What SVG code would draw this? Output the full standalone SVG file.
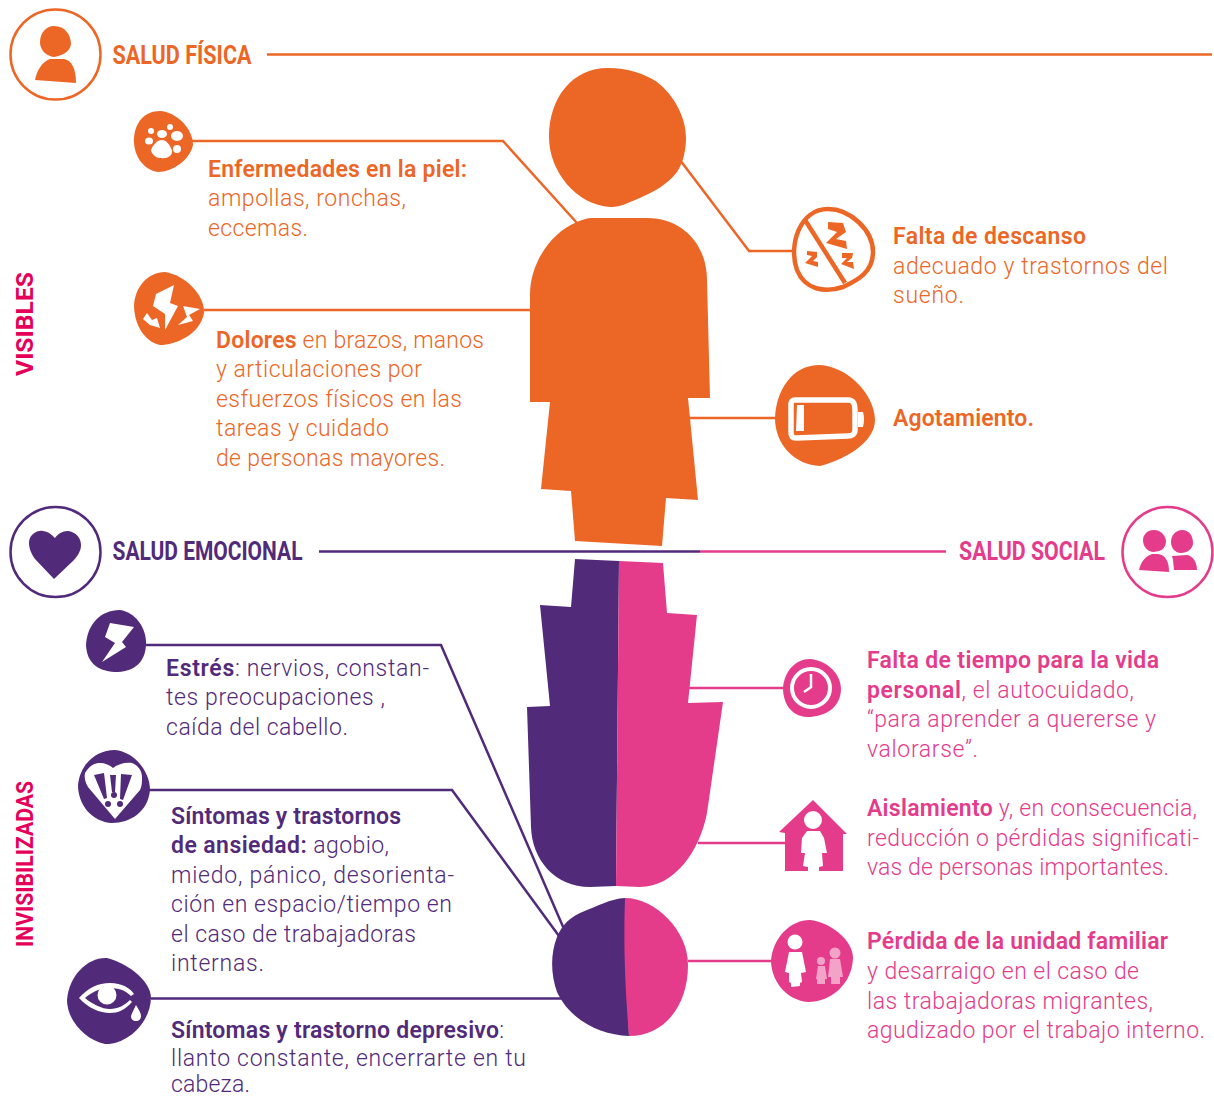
<svg xmlns="http://www.w3.org/2000/svg" width="1214" height="1098" viewBox="0 0 1214 1098">
<style>
text{font-family:"Roboto","Liberation Sans",sans-serif;font-size:23px;font-weight:300}
.b{font-weight:600}
.n{font-weight:300}
.h{font-weight:700;font-size:26px}
.o{fill:#ec6625}.p{fill:#522a7a}.k{fill:#e43c8b}.r{fill:#e5005a}.w{fill:#fff}
.lo,.lp,.lk{fill:none;stroke-width:2.5}
.lo{stroke:#ec6625}.lp{stroke:#522a7a}.lk{stroke:#e43c8b}
</style>
<g id="connectors">
<path class="lo" d="M267 54.500H1212"/>
<path class="lo" d="M190 141H503L577 223"/>
<path class="lo" d="M204 310H532"/>
<path class="lo" d="M680 160L749 251H792"/>
<path class="lo" d="M688 418H777"/>
<path class="lp" d="M319 551.500H700"/>
<path class="lk" d="M700 551.500H946"/>
<path class="lp" d="M146 645H441L564 929"/>
<path class="lp" d="M149 790H452L559 936"/>
<path class="lp" d="M151 998.500H564"/>
<path class="lk" d="M688 688H785"/>
<path class="lk" d="M698 843H786"/>
<path class="lk" d="M688 961H773"/>
</g>
<g id="body-visible">
<path class="o" d="M608 68C628 68 645 74 657 82C675 96 686 118 686 138C686 150 683 163 677 172C665 188 645 196 630 202C622 206 616 207 610 207C577 205 549 172 549 137C549 98 572 68 608 68Z"/>
<path class="o" d="M592 218L647 218C683 218 707 245 707 280L710 398L688 398L698 500L666 498L662 546L575 541L571 491L541 489L550 402L530 402L530 295C530 262 552 232 577 222C582 220 587 218 592 218Z"/>
</g>
<g id="body-hidden">
<path class="p" d="M575 559L619 561L616 886L590 887C555 887 532 860 531 827L527 707L550 706L540 605L571 607Z"/>
<path class="k" d="M619 561L663 563L667 613L697 615L688 703L723 702L707 813C700 850 675 887 640 887L616 886Z"/>
<path class="p" d="M625 898C610 899 600 905 580 913C565 920 560 930 557 937C550 955 551 975 557 992C570 1020 600 1035 629 1036Z"/>
<path class="k" d="M625 898C655 898 688 930 688 965C688 1005 665 1036 629 1036C626 1000 623 950 625 898Z"/>
</g>
<g id="salud-fisica">
<circle cx="55.500" cy="54.500" r="45" fill="#fff" stroke="#ec6625" stroke-width="2.500"/>
<path class="o" d="M54 26C65 26 71 35 71 44C70 53 60 56 54 57C46 56 40 50 40 42C40 33 46 26 54 26Z"/>
<path class="o" d="M50 59H64C71 60 76 68 76 83L35 80C37 70 42 62 50 59Z"/>
<text class="h o" x="112.500" y="64" textLength="139" lengthAdjust="spacingAndGlyphs">SALUD FÍSICA</text>
</g>
<g id="piel">
<path class="o" d="M160 111C176 112 193 128 193 145C190 160 172 172 158 172C143 170 133 155 134 138C135 122 145 111 160 111Z"/>
<path class="w" d="M162 140C167 140 170 146 172 150C173 156 167 159 161 158C156 159 151 153 151 150C153 145 157 140 162 140Z"/><ellipse class="w" cx="162" cy="134" rx="5" ry="4"/><ellipse class="w" cx="151" cy="131" rx="3" ry="3"/><ellipse class="w" cx="149" cy="141" rx="4" ry="3.500"/><ellipse class="w" cx="170" cy="127" rx="3" ry="3"/><ellipse class="w" cx="177" cy="136" rx="6" ry="5"/><ellipse class="w" cx="177" cy="149" rx="4" ry="4"/>
<text class="b o" x="208" y="177" textLength="259">Enfermedades en la piel:</text>
<text class="o" x="208" y="206" textLength="198">ampollas, ronchas,</text>
<text class="o" x="208" y="236" textLength="100">eccemas.</text>
</g>
<g id="dolores">
<path class="o" d="M165 272C185 275 205 295 204 313C200 335 175 345 160 345C145 342 134 325 134 305C135 287 148 272 165 272Z"/>
<path class="w" d="M174 285L156 294L153 306L165 314L165 330L178 306L170 303Z"/><path class="w" d="M147 313L143 319L150 325L160 328L157 318L152 320Z"/><path class="w" d="M183 306L200 309L189 315L193 321L178 325L187 317Z"/>
<text class="o" x="216" y="348" textLength="268"><tspan class="b">Dolores</tspan> en brazos, manos</text>
<text class="o" x="216" y="377" textLength="206">y articulaciones por</text>
<text class="o" x="216" y="407" textLength="246">esfuerzos físicos en las</text>
<text class="o" x="216" y="436" textLength="173">tareas y cuidado</text>
<text class="o" x="216" y="466" textLength="229">de personas mayores.</text>
</g>
<g id="descanso">
<path d="M828 209C850 209 873 230 873 252C873 272 858 280 843 287C825 293 805 290 797 270C788 245 800 209 828 209Z" fill="#fff" stroke="#ec6625" stroke-width="4.500"/>
<path class="lo" style="stroke-width:4.500" d="M805 220L845 283"/>
<path class="o" d="M828 222L843 223L846 232L836 239L846 241L847 249L826 243L837 232L828 229Z"/><path class="o" d="M807 251L817 252L817 257L813 261L818 262L818 267L805 263L812 256L807 255Z"/><path class="o" d="M842 253L853 253L852 258L847 262L853 262L854 269L841 264L847 258L842 258Z"/>
<text class="b o" x="893" y="244" textLength="193">Falta de descanso</text>
<text class="o" x="893" y="274" textLength="275">adecuado y trastornos del</text>
<text class="o" x="893" y="303" textLength="71">sueño.</text>
</g>
<g id="agotamiento">
<path class="o" d="M818 365C845 365 874 392 875 420C875 440 850 458 820 466C795 465 775 445 775 418C776 390 792 366 818 365Z"/>
<path d="M795 400H848C854 400 855 404 855 412V430C855 434 852 436 848 436L796 438C792 438 791 436 791 432V405C791 401 792 400 795 400Z" fill="none" stroke="#fff" stroke-width="5.500"/>
<path class="w" d="M858 412H863Q865 419 863 427H858Z"/><path class="w" d="M797 405L804 405L804 431L796 431Z"/>
<text class="b o" x="893" y="426" textLength="141">Agotamiento.</text>
</g>
<g id="salud-emocional">
<circle cx="55.500" cy="552" r="45" fill="#fff" stroke="#522a7a" stroke-width="2.500"/>
<path class="p" d="M54 579L35 559C30 552 29 547 29 542C30 534 37 530 43 531C49 532 52 535 55 538C58 534 62 531 68 531C76 532 81 538 81 545C81 551 78 555 74 560Z"/>
<text class="h p" x="112.500" y="560" textLength="190" lengthAdjust="spacingAndGlyphs">SALUD EMOCIONAL</text>
</g>
<g id="salud-social">
<circle cx="1167.500" cy="552" r="45" fill="#fff" stroke="#e43c8b" stroke-width="2.500"/>
<path class="k" d="M1154 530C1162 530 1166 537 1166 542C1165 550 1160 551 1154 552C1147 552 1143 546 1143 540C1143 535 1147 530 1154 530Z"/><path class="k" d="M1182 530C1190 530 1193 537 1193 543C1193 549 1187 553 1181 553C1175 553 1171 548 1171 542C1171 535 1176 530 1182 530Z"/>
<path class="k" d="M1152 554H1158C1166 555 1169 562 1169 572L1139 570C1141 561 1146 556 1152 554Z"/><path class="k" d="M1172 556L1187 555C1193 556 1197 562 1197 570H1174L1173 560Z"/>
<text class="h k" x="959" y="560" textLength="146" lengthAdjust="spacingAndGlyphs">SALUD SOCIAL</text>
</g>
<g id="estres">
<path class="p" d="M120 610C135 612 147 628 146 645C145 662 135 671 118 672C100 672 87 665 86 645C87 625 100 610 120 610Z"/>
<path class="w" d="M110 623L134 627L122 642L126 647L102 662L115 643L105 637Z"/>
<text class="p" x="166" y="676" textLength="263"><tspan class="b">Estrés</tspan>: nervios, constan-</text>
<text class="p" x="166" y="705" textLength="219">tes preocupaciones ,</text>
<text class="p" x="166" y="735" textLength="182">caída del cabello.</text>
</g>
<g id="ansiedad">
<path class="p" d="M115 750C135 752 150 772 150 790C148 812 130 823 112 823C92 822 78 805 78 785C80 765 95 750 115 750Z"/>
<path class="w" d="M85 773C90 765 95 763 100 763C105 763 110 765 113 768C118 764 125 762 132 763C138 765 142 771 142 777C142 782 142 786 140 790L115 819L88 787C85 782 84 777 85 773Z"/>
<path class="p" d="M94 775L104 773L107 798L104 799Z"/><path class="p" d="M110 775L116 775L115 792L112 792Z"/><path class="p" d="M121 774L132 775L123 800L120 799Z"/>
<circle class="p" cx="108" cy="804" r="3"/><circle class="p" cx="114" cy="795" r="3"/><circle class="p" cx="120" cy="804" r="3"/>
<text class="b p" x="171" y="824" textLength="230">Síntomas y trastornos</text>
<text class="p" x="171" y="853" textLength="218"><tspan class="b">de ansiedad:</tspan> agobio,</text>
<text class="p" x="171" y="883" textLength="283">miedo, pánico, desorienta-</text>
<text class="p" x="171" y="912" textLength="281">ción en espacio/tiempo en</text>
<text class="p" x="171" y="942" textLength="245">el caso de trabajadoras</text>
<text class="p" x="171" y="971" textLength="93">internas.</text>
</g>
<g id="depresivo">
<path class="p" d="M107 958C125 962 151 980 151 998C150 1025 125 1045 105 1044C85 1040 67 1020 67 1000C69 975 88 957 107 958Z"/>
<path class="w" d="M79 998C88 988 98 983 110 983C122 983 130 988 134 994L131 996C125 990 118 988 110 988C100 988 92 992 85 998C92 1004 102 1009 110 1009C118 1009 125 1005 130 1000L132 1002C125 1010 118 1013 110 1013C100 1013 88 1008 79 998Z"/>
<circle class="w" cx="107" cy="995" r="9.500"/>
<path class="w" d="M136 1005C139 1010 141 1013 141 1016C141 1019 139 1021 136 1021C133 1021 131 1019 131 1016C132 1013 134 1009 136 1005Z"/>
<text class="p" x="171" y="1038" textLength="333"><tspan class="b">Síntomas y trastorno depresivo</tspan>:</text>
<text class="p" x="171" y="1066" textLength="355">llanto constante, encerrarte en tu</text>
<text class="p" x="171" y="1092" textLength="79">cabeza.</text>
</g>
<g id="tiempo">
<path class="k" d="M810 659C825 660 841 672 841 690C840 708 825 717 807 717C790 716 783 702 783 688C784 672 795 659 810 659Z"/>
<circle cx="811" cy="688" r="19" fill="none" stroke="#fff" stroke-width="4"/>
<path d="M811 674V687L804 692" fill="none" stroke="#fff" stroke-width="2.500"/>
<text class="b k" x="867" y="668" textLength="292">Falta de tiempo para la vida</text>
<text class="k" x="867" y="698" textLength="267"><tspan class="b">personal</tspan>, el autocuidado,</text>
<text class="k" x="867" y="727" textLength="289">“para aprender a quererse y</text>
<text class="k" x="867" y="757" textLength="111">valorarse”.</text>
</g>
<g id="aislamiento">
<path class="k" d="M813 800L847 834H843V871H785V833L779 832Z"/>
<circle class="w" cx="813" cy="820" r="9"/>
<path class="w" d="M807 831H820L824 838L827 853H822L823 866L819 867V871H808V867L803 866L805 853H801L802 838Z"/>
<text class="k" x="867" y="816" textLength="330"><tspan class="b">Aislamiento</tspan> y, en consecuencia,</text>
<text class="k" x="867" y="846" textLength="332">reducción o pérdidas significati-</text>
<text class="k" x="867" y="875" textLength="302">vas de personas importantes.</text>
</g>
<g id="familia">
<path class="k" d="M810 920C830 922 853 940 853 958C852 985 830 1002 808 1002C785 1000 771 980 771 960C773 938 790 920 810 920Z"/>
<circle class="w" cx="795" cy="942" r="7.500"/>
<path class="w" d="M789 952H802L806 972L801 973L802 982L800 983V986L791 987V983L789 982V973L785 972Z"/>
<g fill="#f3a2c8"><circle cx="835" cy="953" r="5.500"/><path d="M830 959H840L843 977H840V984H831V977H828Z"/><circle cx="821" cy="961" r="4"/><path d="M818 966H825L827 979H825V984H817V979H816Z"/></g>
<text class="b k" x="867" y="949" textLength="301">Pérdida de la unidad familiar</text>
<text class="k" x="867" y="979" textLength="272">y desarraigo en el caso de</text>
<text class="k" x="867" y="1009" textLength="286">las trabajadoras migrantes,</text>
<text class="k" x="867" y="1038" textLength="338">agudizado por el trabajo interno.</text>
</g>
<g id="categorias">
<text class="r" transform="translate(33 376) rotate(-90)" textLength="104" lengthAdjust="spacingAndGlyphs" style="font-size:23px;font-weight:700">VISIBLES</text>
<text class="r" transform="translate(33 947) rotate(-90)" textLength="166" lengthAdjust="spacingAndGlyphs" style="font-size:23px;font-weight:700">INVISIBILIZADAS</text>
</g>
</svg>
